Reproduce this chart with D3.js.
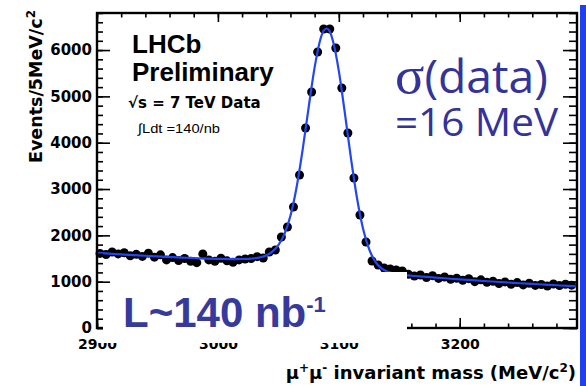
<!DOCTYPE html>
<html><head><meta charset="utf-8">
<script src="https://cdn.jsdelivr.net/npm/d3@7"></script>
<style>html,body{margin:0;padding:0;background:#fff;} svg{display:block}</style>
</head><body>
<svg id="c" width="586" height="386"></svg>
<script>
// ---- data ----
const binMass = [2902.5,2907.5,2912.5,2917.5,2922.5,2927.5,2932.5,2937.5,2942.5,2947.5,
  2952.5,2957.5,2962.5,2967.5,2972.5,2977.5,2982.5,2987.5,2992.5,2997.5,
  3002.5,3007.5,3012.5,3017.5,3022.5,3027.5,3032.5,3037.5,3042.5,3047.5,
  3052.5,3057.5,3062.5,3067.5,3072.5,3077.5,3082.5,3087.5,3092.5,3097.5,
  3102.5,3107.5,3112.5,3117.5,3122.5,3127.5,3132.5,3137.5,3142.5,3147.5,
  3152.5,3157.5,3162.5,3167.5,3172.5,3177.5,3182.5,3187.5,3192.5,3197.5,
  3202.5,3207.5,3212.5,3217.5,3222.5,3227.5,3232.5,3237.5,3242.5,3247.5,
  3252.5,3257.5,3262.5,3267.5,3272.5,3277.5,3282.5,3287.5,3292.5];
const binCounts = [1610,1585,1640,1600,1625,1560,1590,1545,1615,1530,
  1580,1470,1520,1455,1500,1440,1410,1600,1470,1440,
  1505,1450,1420,1470,1490,1500,1540,1511,1640,1684,
  1964,2180,2612,3302,4317,5094,5957,6454,6454,6044,
  5180,4209,3238,2439,1856,1446,1360,1295,1273,1252,
  1230,1160,1120,1145,1090,1130,1070,1100,1050,1075,
  1030,1065,1000,1040,985,1010,960,995,945,980,
  930,965,920,940,905,950,915,945,925];
const fitMass = [2900,2910,2920,2930,2940,2950,2960,2970,2980,2990,3000,3010,3020,3030,3035,
  3040,3045,3050,3055,3060,3065,3070,3075,3080,3085,3087.5,3090,3092.5,3095,3100,3105,3110,
  3115,3120,3125,3130,3135,3140,3145,3150,3155,3160,3170,3180,3190,3200,3210,3220,3230,
  3240,3250,3260,3270,3280,3290,3297];
const fitValue = [1622,1605,1590,1574,1560,1545,1532,1520,1508,1498,1492,1488,1490,1505,1525,
  1565,1650,1790,2027,2422,3028,3833,4753,5627,6256,6420,6465,6400,6211,5552,4641,3671,
  2811,2150,1706,1438,1292,1218,1180,1155,1140,1128,1108,1088,1068,1050,1032,1015,998,
  982,966,951,937,923,910,901];
const xTickValues = [2900,3000,3100,3200];
const yTickValues = [0,1000,2000,3000,4000,5000,6000];

// ---- scales ----
const svg = d3.select("#c");
const x = d3.scaleLinear().domain([2900, 3297]).range([97, 577]);
const y = d3.scaleLinear().domain([0, 6800]).range([328, 13]);
const xMinor = d3.range(2900, 3297, 20);
const yMinor = d3.range(0, 6801, 200);

// right blue bar
svg.append("rect").attr("x",580).attr("y",5).attr("width",6).attr("height",381).attr("fill","#1f3ff0");

// data points
svg.append("g").selectAll("circle").data(binMass).join("circle")
  .attr("cx", (d) => x(d)).attr("cy", (d,i) => y(binCounts[i])).attr("r", 4.5).attr("fill","#000");

// fit curve
const line = d3.line().x((d) => x(d)).y((d,i) => y(fitValue[i])).curve(d3.curveMonotoneX);
svg.append("path").datum(fitMass).attr("d", line).attr("fill","none")
  .attr("stroke","#2445f2").attr("stroke-width",2.2);

// axes
function styleAxis(g){ g.select(".domain").remove(); g.selectAll("line").attr("stroke","#000").attr("stroke-width",1.6); }
const fontTick = "DejaVu Sans";
// left
svg.append("g").attr("transform","translate(97,0)")
  .call(d3.axisLeft(y).tickValues(yMinor).tickSize(-6).tickFormat("")).call(styleAxis);
svg.append("g").attr("transform","translate(97,0)")
  .call(d3.axisLeft(y).tickValues(yTickValues).tickSize(-13).tickPadding(5).tickFormat(d3.format("d")))
  .call(styleAxis)
  .call(g => g.selectAll("text").attr("font-family",fontTick).attr("font-weight","bold").attr("font-size",15).attr("fill","#000"));
// right
svg.append("g").attr("transform","translate(577,0)")
  .call(d3.axisRight(y).tickValues(yMinor).tickSize(-8).tickFormat("")).call(styleAxis);
svg.append("g").attr("transform","translate(577,0)")
  .call(d3.axisRight(y).tickValues(yTickValues).tickSize(-14).tickFormat("")).call(styleAxis);
// top
svg.append("g").attr("transform","translate(0,13)")
  .call(d3.axisTop(x).tickValues(xMinor).tickSize(-4.5).tickFormat("")).call(styleAxis);
svg.append("g").attr("transform","translate(0,13)")
  .call(d3.axisTop(x).tickValues(xTickValues).tickSize(-9).tickFormat("")).call(styleAxis);
// bottom
svg.append("g").attr("transform","translate(0,328)")
  .call(d3.axisBottom(x).tickValues(xMinor).tickSize(-4.5).tickFormat("")).call(styleAxis);
svg.append("g").attr("transform","translate(0,328)")
  .call(d3.axisBottom(x).tickValues(xTickValues).tickSize(-10).tickPadding(11).tickFormat(d3.format("d")))
  .call(styleAxis)
  .call(g => g.selectAll("text").attr("font-family",fontTick).attr("font-weight","bold").attr("font-size",14).attr("fill","#000"));

// frame
svg.append("rect").attr("x",97).attr("y",13).attr("width",480).attr("height",315)
  .attr("fill","none").attr("stroke","#000").attr("stroke-width",2.4);

// axis titles
svg.append("text").attr("x",576).attr("y",379).attr("text-anchor","end")
  .attr("font-family",fontTick).attr("font-weight","bold").attr("font-size",18).attr("fill","#000")
  .html('μ<tspan font-size="12" dy="-7">+</tspan><tspan dy="7">μ</tspan><tspan font-size="12" dy="-7">-</tspan><tspan dy="7"> invariant mass (MeV/c</tspan><tspan font-size="12" dy="-7">2</tspan><tspan dy="7">)</tspan>');
svg.append("text").attr("transform","translate(42,10) rotate(-90)").attr("text-anchor","end")
  .attr("font-family",fontTick).attr("font-weight","bold").attr("font-size",17.5).attr("fill","#000")
  .html('Events/5MeV/c<tspan font-size="12" dy="-7">2</tspan>');

// white overlay box (slide text box)
svg.append("path").attr("d","M103,292 L111,292 L111,272 L407,272 L407,343 L97,343 L97,330 L103,330 Z").attr("fill","#fff");

// LHCb labels
svg.append("text").attr("x",132).attr("y",53).attr("font-family","Liberation Sans").attr("font-weight","bold")
  .attr("font-size",26).attr("fill","#000").text("LHCb");
svg.append("text").attr("x",132).attr("y",81).attr("font-family","Liberation Sans").attr("font-weight","bold")
  .attr("font-size",26).attr("fill","#000").text("Preliminary");
svg.append("text").attr("x",128).attr("y",108).attr("font-family",fontTick).attr("font-weight","bold")
  .attr("font-size",15).attr("fill","#000").text("√s = 7 TeV Data");
svg.append("text").attr("x",138).attr("y",133).attr("font-family","Liberation Sans")
  .attr("font-size",13).attr("fill","#000").attr("textLength",82).attr("lengthAdjust","spacingAndGlyphs").text("∫Ldt =140/nb");

// sigma labels
svg.append("text").attr("x",395).attr("y",93).attr("font-family","Open Sans").attr("font-size",45)
  .attr("fill","#333399").attr("textLength",153).attr("lengthAdjust","spacingAndGlyphs")
  .html('<tspan font-family="Liberation Serif" font-size="53">σ</tspan>(data)');
svg.append("text").attr("x",395).attr("y",136).attr("font-family","Open Sans").attr("font-size",38)
  .attr("fill","#333399").attr("textLength",163).attr("lengthAdjust","spacingAndGlyphs").text("=16 MeV");

// luminosity label
svg.append("text").attr("x",123).attr("y",327).attr("font-family","Liberation Sans").attr("font-weight","bold")
  .attr("font-size",42).attr("fill","#363a9c")
  .html('L~140 nb<tspan font-size="22" dy="-15">-1</tspan>');
</script>
</body></html>
